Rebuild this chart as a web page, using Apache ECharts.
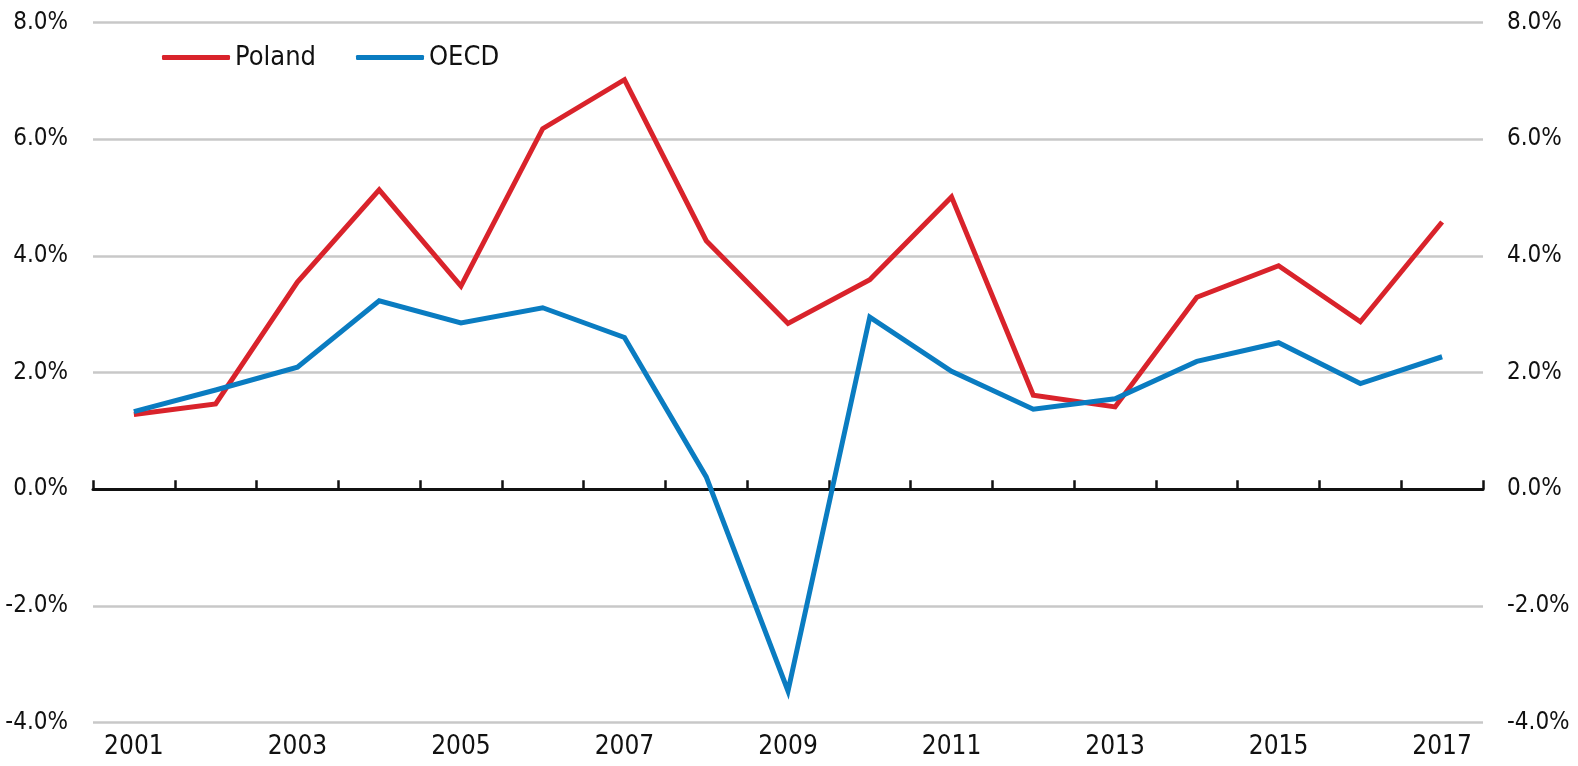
<!DOCTYPE html>
<html>
<head>
<meta charset="utf-8">
<script src="https://cdn.jsdelivr.net/npm/echarts@6/dist/echarts.min.js"></script>
<style>
html,body{margin:0;padding:0;background:#fff;}
#chart{width:1578px;height:766px;}
</style>
</head>
<body>
<div id="chart"></div>
<script>
const years = ['2001','2002','2003','2004','2005','2006','2007','2008','2009','2010','2011','2012','2013','2014','2015','2016','2017'];
const poland = [1.28, 1.46, 3.55, 5.13, 3.48, 6.18, 7.02, 4.26, 2.84, 3.59, 5.01, 1.61, 1.41, 3.29, 3.83, 2.87, 4.58];
const oecd = [1.33, 1.70, 2.09, 3.23, 2.85, 3.11, 2.60, 0.21, -3.46, 2.95, 2.02, 1.37, 1.55, 2.19, 2.51, 1.81, 2.27];
const yMin = -4, yMax = 8, yStep = 2;

const FONT = '"Liberation Sans Narrow", "Arial Narrow", "DejaVu Sans Condensed", "Roboto Condensed", sans-serif';
const pct = v => v.toFixed(1) + '%';

const chart = echarts.init(document.getElementById('chart'), null, {renderer: 'canvas'});
chart.setOption({
  animation: false,
  backgroundColor: '#ffffff',
  grid: {left: 93, right: 95, top: 22.5, bottom: 43.5, containLabel: false, outerBoundsMode: 'none'},
  legend: {
    left: 157, top: 39,
    itemWidth: 68, itemHeight: 5, itemGap: 40,
    icon: 'roundRect',
    textStyle: {fontFamily: FONT, fontSize: 27, color: '#111'},
    data: ['Poland', 'OECD']
  },
  xAxis: [
    {
      type: 'category', data: years, position: 'bottom', boundaryGap: true,
      axisLine: {show: true, onZero: true, lineStyle: {color: '#111', width: 3}},
      axisTick: {show: true, inside: true, length: 9, interval: 0, lineStyle: {color: '#111', width: 2.5}},
      axisLabel: {show: false},
      splitLine: {show: false}
    },
    {
      type: 'category', data: years, position: 'bottom', boundaryGap: true,
      axisLine: {show: false, onZero: false},
      axisTick: {show: false},
      axisLabel: {show: true, interval: 1, margin: 12, fontFamily: FONT, fontSize: 26, color: '#111'},
      splitLine: {show: false}
    }
  ],
  yAxis: [
    {
      type: 'value', min: yMin, max: yMax, interval: yStep, position: 'left',
      axisLine: {show: false}, axisTick: {show: false},
      axisLabel: {formatter: pct, margin: 25, fontFamily: FONT, fontSize: 24, color: '#111'},
      splitLine: {show: true, lineStyle: {color: '#c8c8c8', width: 2.5}}
    },
    {
      type: 'value', min: yMin, max: yMax, interval: yStep, position: 'right',
      axisLine: {show: false}, axisTick: {show: false},
      axisLabel: {formatter: pct, margin: 24, fontFamily: FONT, fontSize: 24, color: '#111'},
      splitLine: {show: false}
    }
  ],
  series: [
    {
      name: 'Poland', type: 'line', data: poland, xAxisIndex: 0, yAxisIndex: 0,
      symbol: 'none', color: '#d9232b',
      lineStyle: {width: 5, color: '#d9232b', join: 'miter'}
    },
    {
      name: 'OECD', type: 'line', data: oecd, xAxisIndex: 0, yAxisIndex: 0,
      symbol: 'none', color: '#0a7cc1',
      lineStyle: {width: 5, color: '#0a7cc1', join: 'miter'}
    }
  ]
});
</script>
</body>
</html>
